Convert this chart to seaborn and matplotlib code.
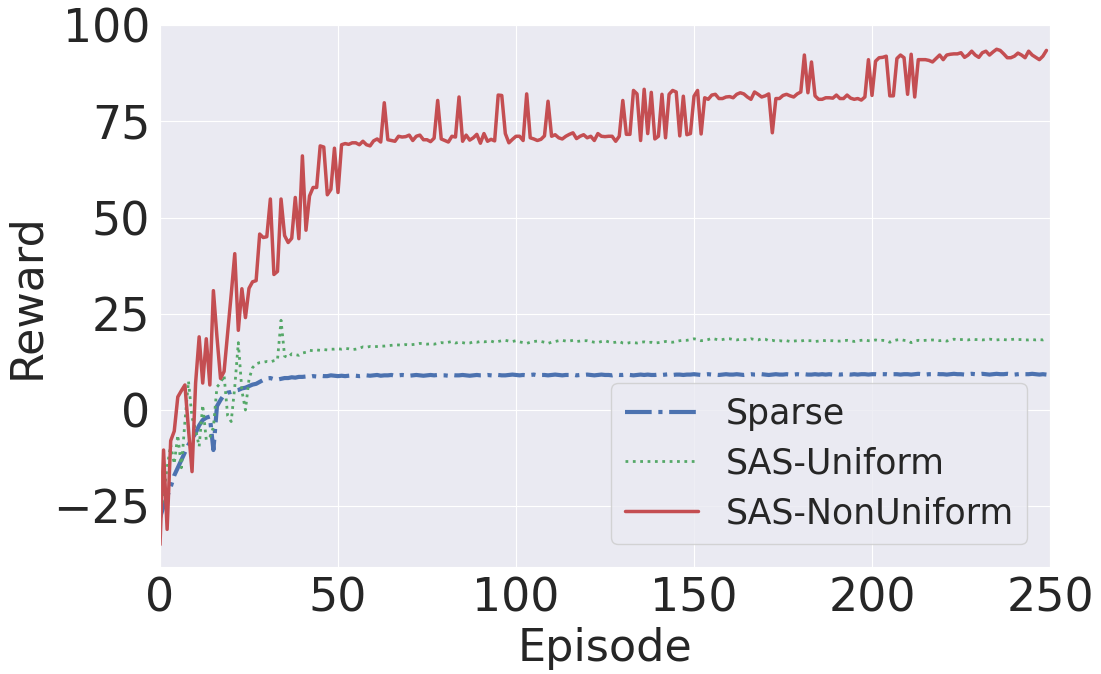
import numpy as np
import pandas as pd
import matplotlib
matplotlib.use("Agg")
import matplotlib.pyplot as plt
import seaborn as sns

# reward per episode
sparse = [
    -28, -25, -22.5, -20, -17, -15, -13, -11, -9, -7.5,
    -6, -4, -2.6, -2, -1.7, -10.4, 1, 2.6, 4, 4.5,
    4.7, 5, 5.2, 5.6, 5.8, 6.2, 6.6, 6.8, 7.3, 7.8,
    8.2, 8.3, 8.0, 7.9, 8.1, 8.3, 8.3, 8.5, 8.4, 8.6,
    8.6, 8.7, 8.6, 8.8, 8.7, 8.9, 8.8, 8.8, 9.0, 8.9,
    8.8, 8.9, 8.8, 8.9, 9.0, 8.9, 8.8, 8.9, 9.0, 8.9,
    9.0, 9.1, 8.9, 9.0, 9.0, 9.1, 8.9, 9.0, 9.1, 9.0,
    8.9, 9.0, 9.1, 9.0, 8.9, 9.0, 9.1, 9.0, 9.1, 9.0,
    9.0, 8.9, 9.1, 9.0, 9.0, 9.1, 9.0, 8.9, 9.0, 9.1,
    9.0, 9.0, 9.1, 9.0, 8.9, 9.1, 9.0, 9.0, 9.1, 9.2,
    9.1, 9.0, 9.1, 9.0, 9.1, 9.2, 9.0, 9.1, 9.1, 9.0,
    9.1, 9.2, 9.1, 9.0, 9.1, 9.1, 9.2, 9.0, 9.1, 9.1,
    9.2, 9.1, 9.0, 9.1, 9.2, 9.1, 9.1, 9.0, 9.2, 9.1,
    9.1, 9.2, 9.1, 9.0, 9.1, 9.2, 9.1, 9.2, 9.1, 9.1,
    9.2, 9.1, 9.2, 9.3, 9.1, 9.2, 9.2, 9.1, 9.2, 9.2,
    9.3, 9.2, 9.1, 9.2, 9.3, 9.2, 9.2, 9.1, 9.2, 9.3,
    9.2, 9.2, 9.3, 9.2, 9.1, 9.2, 9.3, 9.2, 9.2, 9.3,
    9.2, 9.1, 9.2, 9.3, 9.2, 9.2, 9.3, 9.2, 9.2, 9.3,
    9.2, 9.3, 9.2, 9.2, 9.3, 9.2, 9.3, 9.2, 9.3, 9.2,
    9.3, 9.2, 9.3, 9.3, 9.2, 9.3, 9.2, 9.3, 9.3, 9.2,
    9.3, 9.3, 9.2, 9.3, 9.3, 9.2, 9.3, 9.3, 9.2, 9.3,
    9.3, 9.2, 9.3, 9.4, 9.3, 9.2, 9.3, 9.3, 9.4, 9.3,
    9.3, 9.2, 9.3, 9.4, 9.3, 9.3, 9.2, 9.3, 9.4, 9.3,
    9.3, 9.4, 9.3, 9.2, 9.3, 9.4, 9.3, 9.3, 9.4, 9.3,
    9.2, 9.3, 9.4, 9.3, 9.3, 9.4, 9.3, 9.2, 9.3, 9.2,
]

sas_uniform = [
    -28, -22, -15, -9, -14, -6.5, -15, -3, 7.5, -2,
    -5, -9.5, 1.3, -7.8, -7, -4.5, 6, 7, 9, -1.5,
    -3, 6, 17.5, 5, 0, 8, 11, 12, 12.3, 12.4,
    12.6, 12.5, 12.8, 13, 23.3, 14, 13.6, 14.6, 14.4, 14.2,
    14.8, 15, 15.5, 15.4, 15.6, 15.5, 15.7, 15.6, 15.8, 15.8,
    15.9, 15.8, 16, 15.9, 15.7, 15.8, 16, 16.4, 16.3, 16.5,
    16.4, 16.5, 16.6, 16.6, 16.7, 16.8, 16.9, 16.9, 16.8, 17,
    16.9, 17.0, 17.1, 17.3, 17.2, 17.1, 17.2, 17.1, 17.3, 17.5,
    17.4, 17.6, 17.8, 17.4, 17.6, 17.5, 17.3, 17.4, 17.7, 17.6,
    17.8, 17.7, 17.8, 17.9, 17.6, 17.8, 18.0, 18.1, 17.9, 17.8,
    18.0, 17.7, 17.5, 17.3, 17.6, 17.8, 17.9, 17.8, 17.6, 17.3,
    17.6, 17.8, 18.0, 18.1, 17.9, 17.9, 18.1, 17.8, 17.9, 18.0,
    18.0, 17.8, 17.6, 17.5, 17.8, 18.0, 17.7, 17.5, 17.6, 17.8,
    17.4, 17.3, 17.5, 17.5, 17.4, 17.6, 17.7, 17.5, 17.6, 17.4,
    17.5, 17.6, 17.8, 17.7, 17.6, 17.8, 18.0, 18.1, 18.1, 18.3,
    18.5, 18.3, 18.0, 18.1, 18.3, 18.6, 18.4, 18.2, 18.3, 18.5,
    18.5, 18.3, 18.2, 18.4, 18.3, 18.2, 18.5, 18.3, 18.2, 18.5,
    18.4, 18.0, 18.1, 17.9, 18.0, 17.9, 18.0, 17.8, 17.9, 18.0,
    17.9, 18.1, 18.0, 18.0, 17.8, 17.9, 18.1, 18.0, 18.0, 18.0,
    17.9, 17.9, 18.0, 18.1, 18.0, 17.8, 18.0, 18.1, 18.2, 18.0,
    18.0, 18.2, 18.0, 18.1, 18.0, 17.6, 18.0, 18.2, 18.3, 18.1,
    18.0, 17.5, 17.9, 18.1, 18.0, 18.1, 18.1, 18.2, 18.1, 18.0,
    18.1, 17.9, 18.2, 18.4, 18.2, 18.3, 18.3, 18.2, 18.4, 18.3,
    18.3, 18.2, 18.3, 18.4, 18.3, 18.2, 18.3, 18.3, 18.2, 18.3,
    18.4, 18.3, 18.3, 18.2, 18.2, 18.3, 18.2, 18.3, 18.2, 18.5,
]

sas_nonuniform = [
    -35, -10.4, -31, -8, -5.5, 3.4, 5, 6.5, -5, -16,
    7, 19, 7, 18.5, 6.5, 31, 19, 8.2, 10, 20,
    30, 40.6, 20.7, 31.5, 24, 31.6, 33.3, 33.6, 45.7, 44.8,
    45, 54.8, 35.2, 36, 54.8, 45.3, 43.5, 44.6, 55.2, 44.5,
    66, 46.7, 55.6, 57.8, 57.8, 68.6, 68.3, 55.9, 57.3, 68,
    56.5, 68.9, 69.2, 69, 69.4, 69.4, 68.9, 69.8, 68.9, 68.6,
    69.9, 70.4, 69.6, 79.8, 70.2, 70, 69.8, 71.1, 70.9, 71,
    71.4, 70, 71.1, 71.4, 70.2, 70.2, 69.7, 70.6, 80.4, 70.4,
    70, 69.6, 71.1, 70.9, 81.3, 69.8, 71.4, 70.1, 70.7, 71.6,
    69.3, 71.8, 69.8, 70.3, 69.9, 81.8, 81.7, 71.8, 69.4, 70.3,
    71.1, 71.1, 70, 82.1, 70.7, 70.4, 70, 70.3, 71.2, 80.2,
    71.1, 71.5, 70.7, 70.4, 71.1, 71.6, 72, 70.5, 71.1, 71.5,
    70.7, 71.1, 70, 71.8, 71.1, 71, 71.1, 71.1, 69.8, 71.1,
    80.4, 71.6, 71.6, 83, 82.1, 70, 83.3, 71.8, 82.5, 70.4,
    71.1, 82, 70.7, 82, 83, 82.6, 71.2, 81.5, 71.5, 71.8,
    81.5, 83, 71.7, 81.1, 80.7, 81.8, 82, 80.9, 80.9, 81.3,
    81.4, 81.1, 82, 82.4, 82.1, 81.3, 80.7, 82.6, 82, 81.3,
    81.6, 82.1, 72, 80.9, 80.9, 81.7, 82, 81.6, 81.3, 82.1,
    82.6, 92.2, 82.4, 90.4, 81.6, 80.7, 80.7, 81.1, 81.1, 81,
    81.8, 80.9, 80.9, 81.8, 81, 80.7, 80.9, 80.5, 81.3, 91,
    81.7, 90.6, 91.5, 91.6, 91.9, 81.6, 81.6, 91.3, 92.2, 91.5,
    82, 92.4, 81.3, 91, 91, 91, 90.8, 90.4, 91.3, 92.2,
    91, 92.2, 92.4, 92.5, 92.5, 92.8, 91.6, 92.2, 93.2, 92.2,
    91.6, 92.8, 93.2, 92.2, 93, 93.7, 93.4, 92.5, 91.5, 91.5,
    91.9, 92.7, 92.2, 91.5, 93.2, 92.2, 91.6, 91, 91.9, 93.4,
]

episodes = np.arange(len(sas_nonuniform))

sns.set_style("darkgrid")
plt.rcParams['font.family'] = ['DejaVu Sans']

fig = plt.figure(figsize=(11.01, 6.74), dpi=100)
ax = fig.add_axes([160 / 1101, 1 - 566.7 / 674, 890 / 1101, 541.7 / 674])

sns.lineplot(x=episodes, y=sparse, ax=ax, color="#4C72B0", linestyle="-.",
             linewidth=3, label="Sparse")
sns.lineplot(x=episodes, y=sas_uniform, ax=ax, color="#55A868", linestyle=":",
             linewidth=2, label="SAS-Uniform")
sns.lineplot(x=episodes, y=sas_nonuniform, ax=ax, color="#C44E52", linestyle="-",
             linewidth=2.5, label="SAS-NonUniform")

ax.set_xlim(0, 250)
ax.set_ylim(-40.7, 100)
ax.set_xticks([0, 50, 100, 150, 200, 250])
ax.set_yticks([-25, 0, 25, 50, 75, 100])
ax.tick_params(labelsize=33)
ax.set_xlabel("Episode", fontsize=32)
ax.set_ylabel("Reward", fontsize=32)

ax.legend(loc="lower right", fontsize=25, handlelength=2.1, borderaxespad=0.65,
          labelspacing=0.45)

fig.savefig("out.png", dpi=100)
